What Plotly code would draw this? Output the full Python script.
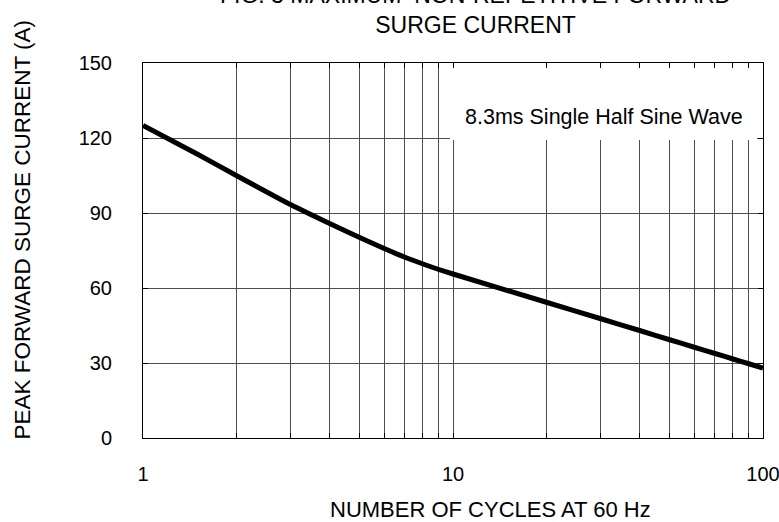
import plotly.graph_objects as go

# Data
cycles = [1, 1.5, 2, 3, 4, 5, 6, 7, 8, 9, 10, 20, 30, 40, 50, 60, 70, 80, 90, 100]
surge_current = [125, 113.5, 105, 93.3, 85.8, 80.2, 75.8, 72.3, 69.6, 67.4, 65.6,
                 54.3, 47.7, 43.0, 39.3, 36.3, 33.8, 31.6, 29.7, 28.0]

x_gridvals = [1, 2, 3, 4, 5, 6, 7, 8, 9, 10, 20, 30, 40, 50, 60, 70, 80, 90, 100]
x_ticklabels = ["1", "", "", "", "", "", "", "", "", "10", "", "", "", "", "", "", "", "", "100"]
y_tickvals = [0, 30, 60, 90, 120, 150]

title_text = "FIG. 3 MAXIMUM  NON-REPETITIVE FORWARD<br>SURGE CURRENT"
x_title = "NUMBER OF CYCLES AT 60 Hz"
y_title = "PEAK FORWARD SURGE CURRENT (A)"
note_text = "8.3ms Single Half Sine Wave"

FONT = "Liberation Sans, Arial, sans-serif"

fig = go.Figure()
fig.add_trace(go.Scatter(
    x=cycles, y=surge_current, mode="lines",
    line=dict(color="black", width=5, shape="spline", smoothing=0.5),
    showlegend=False, hoverinfo="skip",
))

fig.update_layout(
    width=779, height=522,
    margin=dict(l=143, r=16, t=63, b=84, autoexpand=False),
    paper_bgcolor="white", plot_bgcolor="white",
    font=dict(family=FONT, size=20, color="black"),
    showlegend=False,
)

fig.update_xaxes(
    type="log", range=[0, 2],
    tickvals=x_gridvals, ticktext=x_ticklabels,
    showgrid=True, gridcolor="#4d4d4d", gridwidth=1,
    showline=True, linecolor="black", linewidth=1, mirror="ticks",
    ticks="inside", ticklen=5, tickcolor="black",
    tickfont=dict(family=FONT, size=20, color="black"),
    ticklabelstandoff=18, ticklabeloverflow="allow", automargin=False,
    zeroline=False,
)
fig.update_yaxes(
    range=[0, 150],
    tickvals=y_tickvals,
    showgrid=True, gridcolor="#4d4d4d", gridwidth=1,
    showline=True, linecolor="black", linewidth=1, mirror="ticks",
    ticks="inside", ticklen=5, tickcolor="black",
    tickfont=dict(family=FONT, size=20, color="black"),
    ticklabelstandoff=26, ticklabeloverflow="allow", automargin=False,
    zeroline=False,
)

# white box behind the note
fig.add_shape(type="rect", xref="paper", yref="paper",
              x0=0.4952, x1=0.9903, y0=0.7947, y1=0.9867,
              fillcolor="white", line=dict(width=0), layer="above")

annotations = [
    dict(text=note_text, xref="paper", yref="paper", x=0.7435, y=0.856,
         xanchor="center", yanchor="middle", showarrow=False,
         font=dict(family=FONT, size=21.5, color="black")),
    dict(text=title_text, xref="paper", yref="paper", x=0.5355, y=1.0613,
         xanchor="center", yanchor="bottom", showarrow=False,
         font=dict(family=FONT, size=23, color="black")),
    dict(text=x_title, xref="paper", yref="paper", x=0.56, y=-0.19,
         xanchor="center", yanchor="middle", showarrow=False,
         font=dict(family=FONT, size=22, color="black")),
    dict(text=y_title, xref="paper", yref="paper", x=-0.1944, y=0.557,
         xanchor="center", yanchor="middle", showarrow=False, textangle=-90,
         font=dict(family=FONT, size=22.5, color="black")),
]
fig.update_layout(annotations=annotations)

fig.write_html(
    "out.html",
    config={"displayModeBar": False},
    post_script="document.body.style.margin='0px';document.body.style.overflow='hidden';",
)
